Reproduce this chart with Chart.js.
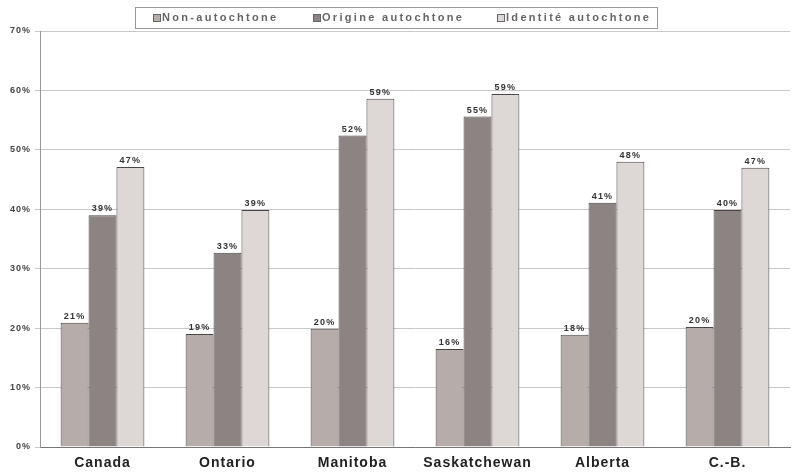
<!DOCTYPE html>
<html>
<head>
<meta charset="utf-8">
<script src="https://cdn.jsdelivr.net/npm/chart.js@4"></script>
<style>
  body { margin: 0; background: #fff; }
  #wrap { width: 792px; height: 475px; }
</style>
</head>
<body>
<div id="wrap"><canvas id="barCanvas"></canvas></div>
<script>
const provinces = ["Canada", "Ontario", "Manitoba", "Saskatchewan", "Alberta", "C.-B."];
const nonAutochtone = [20.9, 19.0, 19.9, 16.5, 18.9, 20.2];
const origineAutochtone = [39.0, 32.7, 52.4, 55.6, 41.1, 39.9];
const identiteAutochtone = [47.1, 39.9, 58.6, 59.4, 48.0, 47.0];
// étiquettes telles qu'imprimées sur le graphique
const labelsNon = ["21%", "19%", "20%", "16%", "18%", "20%"];
const labelsOrigine = ["39%", "33%", "52%", "55%", "41%", "40%"];
const labelsIdentite = ["47%", "39%", "59%", "59%", "48%", "47%"];
const yTicks = [0, 10, 20, 30, 40, 50, 60, 70];

const FONT = "'Liberation Sans', Arial, sans-serif";

// espacement des lettres pour tout le texte dessiné
const spacing = {
    id: "spacing",
    beforeDraw(chart) {
        chart.ctx.letterSpacing = "1px";
    }
};

const barLabels = {
    id: "barLabels",
    afterDatasetsDraw(chart) {
        const ctx = chart.ctx;
        ctx.save();
        ctx.letterSpacing = "1.2px";
        ctx.font = "bold 9px " + FONT;
        ctx.fillStyle = "#333";
        ctx.textAlign = "center";
        ctx.textBaseline = "bottom";
        chart.data.datasets.forEach(function(ds, i) {
            chart.getDatasetMeta(i).data.forEach(function(bar, j) {
                ctx.fillText(ds.printed[j], bar.x, bar.y - 2);
            });
        });
        ctx.restore();
    }
};

// légende encadrée en haut
const legendBox = {
    id: "legendBox",
    afterDraw(chart) {
        const ctx = chart.ctx;
        const starts = [153, 313, 497];
        ctx.save();
        ctx.fillStyle = "#fff";
        ctx.fillRect(135, 7, 522, 21);
        ctx.strokeStyle = "#999";
        ctx.lineWidth = 1;
        ctx.strokeRect(135.5, 7.5, 522, 21);
        ctx.letterSpacing = "2.3px";
        ctx.font = "bold 11px " + FONT;
        ctx.textBaseline = "middle";
        chart.data.datasets.forEach(function(ds, i) {
            const x = starts[i];
            ctx.fillStyle = ds.backgroundColor;
            ctx.fillRect(x, 14, 7, 7);
            ctx.strokeStyle = "#666";
            ctx.strokeRect(x + 0.5, 14.5, 7, 7);
            ctx.fillStyle = "#666";
            ctx.fillText(ds.label, x + 9, 18);
        });
        ctx.restore();
    }
};

barCanvas = document.getElementById("barCanvas");

barChart = new Chart(barCanvas, {
    type: "bar",
    data: {
        labels: provinces,
        datasets: [{
            label: "Non-autochtone",
            data: nonAutochtone,
            printed: labelsNon,
            backgroundColor: "#b6acaa",
            borderColor: "#4a4646",
            borderWidth: 1
        }, {
            label: "Origine autochtone",
            data: origineAutochtone,
            printed: labelsOrigine,
            backgroundColor: "#8c8482",
            borderColor: "#4a4646",
            borderWidth: 1
        }, {
            label: "Identité autochtone",
            data: identiteAutochtone,
            printed: labelsIdentite,
            backgroundColor: "#ddd7d5",
            borderColor: "#4a4646",
            borderWidth: 1
        }]
    },
    options: {
        responsive: true,
        maintainAspectRatio: false,
        animation: false,
        layout: { padding: { left: 2, right: 2, top: 31, bottom: 0 } },
        datasets: {
            bar: { categoryPercentage: 0.67, barPercentage: 1.0 }
        },
        scales: {
            x: {
                afterFit: function(scale) { scale.height = 28; },
                grid: { display: false, drawTicks: false },
                border: { color: "#777" },
                ticks: {
                    color: "#222",
                    padding: 8,
                    font: { family: FONT, size: 14, weight: "bold" }
                }
            },
            y: {
                min: 0,
                max: 70,
                afterFit: function(scale) { scale.width = 38; },
                afterBuildTicks: function(axis) {
                    axis.ticks = yTicks.map(function(v) { return { value: v }; });
                },
                grid: { color: "#c8c8c8", tickLength: 5 },
                border: { color: "#999" },
                ticks: {
                    color: "#444",
                    padding: 4,
                    font: { family: FONT, size: 9, weight: "bold" },
                    callback: function(value) {
                        return value + '%';
                    }
                }
            }
        },
        plugins: {
            legend: { display: false },
            tooltip: { enabled: false }
        }
    },
    plugins: [spacing, barLabels, legendBox]
});
</script>
</body>
</html>
